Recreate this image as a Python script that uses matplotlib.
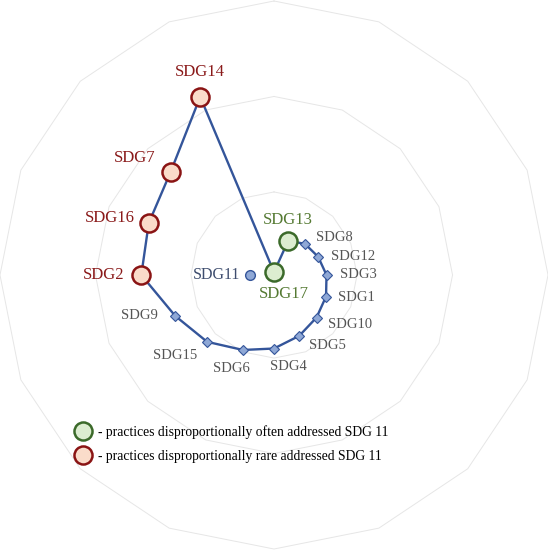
import numpy as np
import matplotlib
matplotlib.use("Agg")
import matplotlib.pyplot as plt
from matplotlib.lines import Line2D

# SDGs in the order they sit around the radar (clockwise from top)
sdg_labels = ['SDG17', 'SDG13', 'SDG8', 'SDG12', 'SDG3', 'SDG1', 'SDG10', 'SDG5',
              'SDG4', 'SDG6', 'SDG15', 'SDG9', 'SDG2', 'SDG16', 'SDG7', 'SDG14']
sdg_values = [-0.84, -0.48, -0.41, -0.37, -0.32, -0.28, -0.24, -0.18,
              -0.10, -0.02, 0.12, 0.25, 0.52, 0.55, 0.66, 1.15]
# 'often' / 'rare' / 'normal'
sdg_groups = ['often', 'often', 'normal', 'normal', 'normal', 'normal', 'normal', 'normal',
              'normal', 'normal', 'normal', 'normal', 'rare', 'rare', 'rare', 'rare']
ring_values = [0, 1, 2]

# SDG11 itself, drawn apart from the loop
sdg11_value = -0.62
sdg11_angle_deg = 270

legend_texts = ['- practices disproportionally often addressed SDG 11',
                '- practices disproportionally rare addressed SDG 11']

# label offsets in points (layout only)
label_offsets = {
    'SDG17': (7, -16), 'SDG13': (0, 15), 'SDG8': (21, 5), 'SDG12': (25, 0),
    'SDG3': (23, 0), 'SDG1': (22, -1), 'SDG10': (24, -5), 'SDG5': (20, -7),
    'SDG4': (10, -13), 'SDG6': (-8, -13), 'SDG15': (-23, -10), 'SDG9': (-26, 0),
    'SDG2': (-27, 0), 'SDG16': (-28, 4), 'SDG7': (-26, 10), 'SDG14': (0, 18),
}

LINE = '#34559a'
DIAMOND_FACE = '#8fa8d6'
GREEN_EDGE, GREEN_FACE, GREEN_TEXT = '#3b6a2a', '#dcedd0', '#557a33'
RED_EDGE, RED_FACE, RED_TEXT = '#8a1414', '#fadcca', '#8a1a1a'
GRAY_TEXT = '#555555'
GRID = '#e6e6e6'

plt.rcParams['font.family'] = ['Liberation Serif', 'DejaVu Serif']

fig = plt.figure(figsize=(5.48, 5.50), dpi=100)
ax = fig.add_axes([0, 0, 1, 1], projection='polar')
ax.set_theta_zero_location('N')
ax.set_theta_direction(-1)

n = len(sdg_labels)
theta = np.arange(n) * 2 * np.pi / n

# polygon grid rings
theta_ring = np.append(theta, theta[0])
for rv in ring_values:
    ax.plot(theta_ring, [rv] * (n + 1), color=GRID, lw=0.7, zorder=1, clip_on=False)

# the loop
vals = np.array(sdg_values)
ax.plot(np.append(theta, theta[0]), np.append(vals, vals[0]), color=LINE, lw=1.7, zorder=3)

for i, lab in enumerate(sdg_labels):
    g = sdg_groups[i]
    if g == 'often':
        ax.plot(theta[i], vals[i], 'o', ms=13, mfc=GREEN_FACE, mec=GREEN_EDGE, mew=1.8, zorder=5)
        col, fs = GREEN_TEXT, 12
    elif g == 'rare':
        ax.plot(theta[i], vals[i], 'o', ms=13, mfc=RED_FACE, mec=RED_EDGE, mew=1.8, zorder=5)
        col, fs = RED_TEXT, 12
    else:
        ax.plot(theta[i], vals[i], 'D', ms=5.5, mfc=DIAMOND_FACE, mec=LINE, mew=0.8, zorder=4)
        col, fs = GRAY_TEXT, 10.5
    ax.annotate(lab, (theta[i], vals[i]), xytext=label_offsets[lab], textcoords='offset points',
                ha='center', va='center', color=col, fontsize=fs, zorder=6)

# SDG11 point
t11 = np.deg2rad(sdg11_angle_deg)
ax.plot(t11, sdg11_value, 'o', ms=7, mfc=DIAMOND_FACE, mec=LINE, mew=1.0, zorder=5)
ax.annotate('SDG11', (t11, sdg11_value), xytext=(-24, 0), textcoords='offset points',
            ha='center', va='center', color='#3e4d6e', fontsize=11.5, zorder=6)

ax.set_ylim(-0.87, 2.0)
ax.set_xticks([])
ax.set_yticks([])
ax.grid(False)
ax.spines['polar'].set_visible(False)
ax.patch.set_alpha(0)

handles = [
    Line2D([], [], marker='o', ls='none', ms=13, mfc=GREEN_FACE, mec=GREEN_EDGE, mew=1.8),
    Line2D([], [], marker='o', ls='none', ms=13, mfc=RED_FACE, mec=RED_EDGE, mew=1.8),
]
fig.legend(handles, legend_texts, loc='upper left', bbox_to_anchor=(0.125, 0.24),
           frameon=False, fontsize=9.8, handlelength=1.1, handletextpad=0.55,
           labelspacing=0.85, borderpad=0)

fig.savefig('out.png', dpi=100)
